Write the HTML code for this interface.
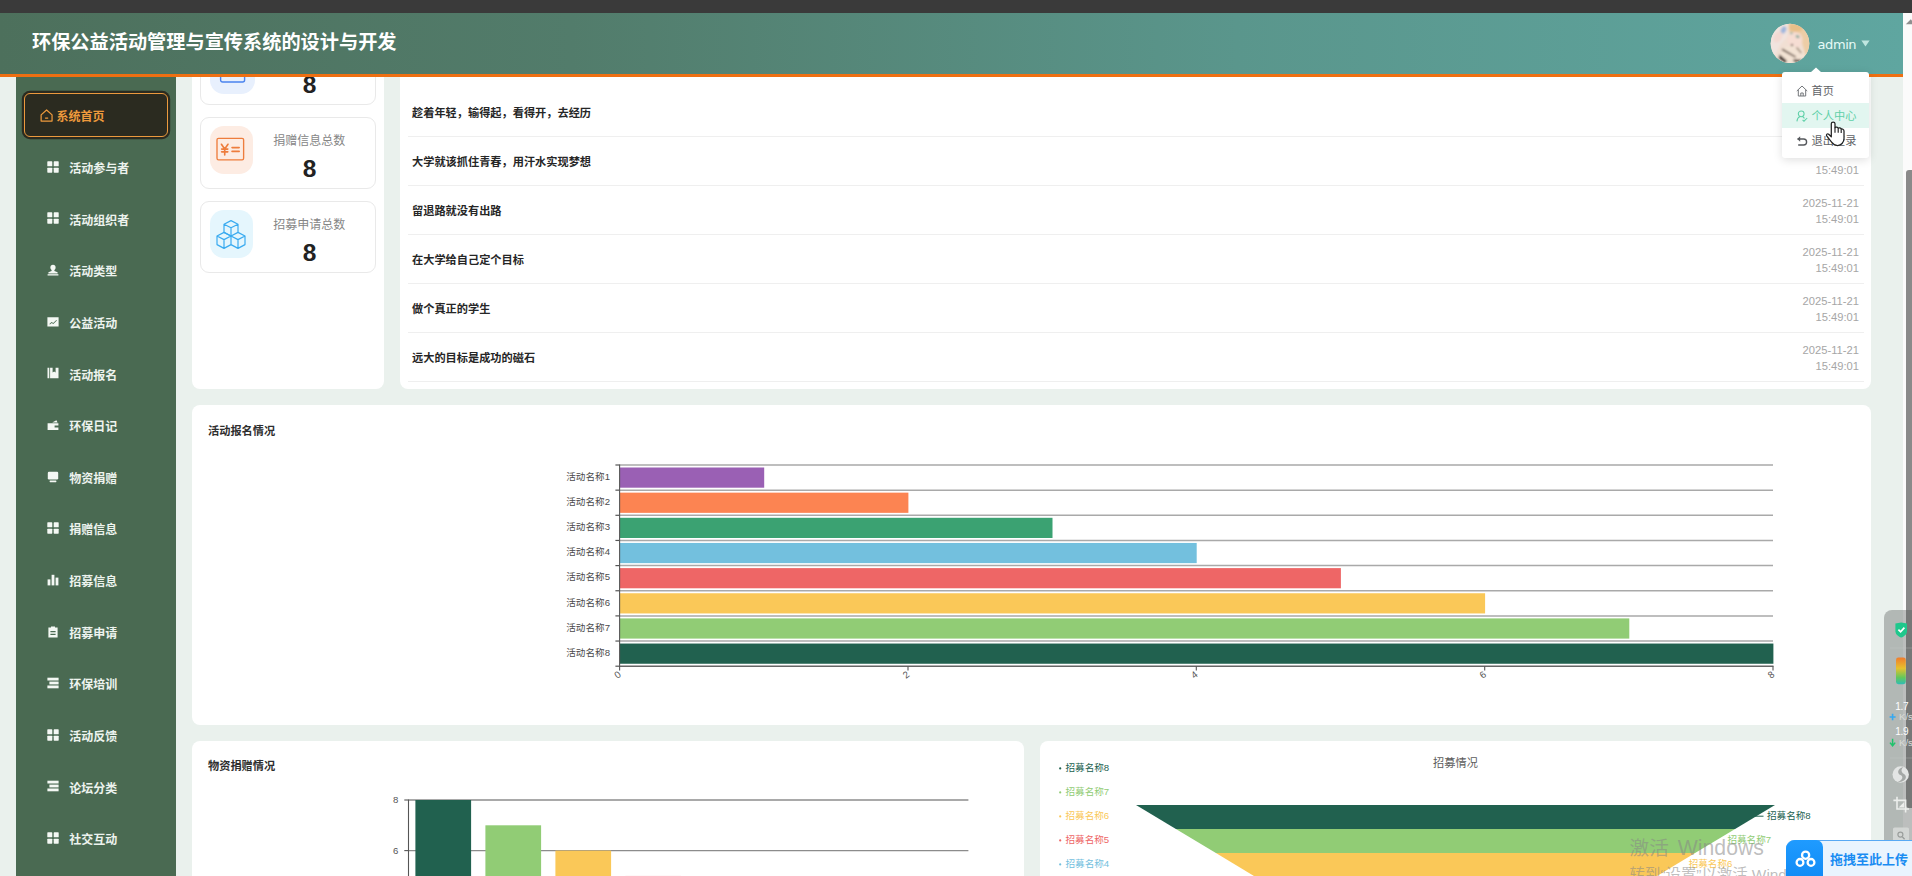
<!DOCTYPE html>
<html lang="zh-CN">
<head>
<meta charset="utf-8">
<title>环保公益活动管理与宣传系统的设计与开发</title>
<style>
*{box-sizing:border-box;margin:0;padding:0}
html,body{width:1912px;height:876px;overflow:hidden}
body{position:relative;background:#eaf1ed;font-family:"Liberation Sans","Noto Sans CJK SC",sans-serif;color:#333}
.abs{position:absolute}
#topbar{left:0;top:0;width:1912px;height:13px;background:#3a3a3a;z-index:50}
#header{left:0;top:13px;width:1903px;height:64px;background:linear-gradient(90deg,#4d705c 0%,#527c6b 30%,#5a968c 65%,#5fa6a0 100%);border-bottom:3px solid #ee6f12;z-index:40}
#title{left:32px;top:14.3px;height:58px;line-height:58px;font-size:19.2px;font-weight:700;color:#fff;z-index:41;white-space:nowrap;letter-spacing:0}
#sidebar{left:16px;top:77px;width:160px;height:799px;background:#4a6a52;z-index:5}
.mi{position:absolute;left:0;width:160px;height:20px;line-height:20px;font-size:12px;font-weight:700;color:#edf3ee;white-space:nowrap}
.mi span{position:absolute;left:53.2px;top:0.8px}
.mi svg{position:absolute;left:31px;top:2.5px;width:12px;height:12px;fill:#f4f8f4}
#active{left:8px;top:15.5px;width:143.7px;height:44.2px;border:1px solid #eb9a3e;border-radius:6px;background:#2b2b20;box-shadow:0 0 0 2.2px #2b2b20}
#active span{position:absolute;left:31.6px;top:13.2px;height:20px;line-height:20px;font-size:12px;font-weight:700;color:#ee9a3c;white-space:nowrap}
#active svg{position:absolute;left:14.6px;top:15.6px;width:13.2px;height:13.2px}
.panel{position:absolute;background:#fff;border-radius:8px}
.card{position:absolute;left:8px;width:176px;height:72px;border:1px solid #e9e9e9;border-radius:9px;background:#fff}
.card .ic{position:absolute;left:8.6px;top:8.4px;width:43px;height:48px;border-radius:14px}
.card .lb{position:absolute;left:53.3px;width:110px;text-align:center;top:15.4px;font-size:12px;line-height:16px;color:#868686;white-space:nowrap}
.card .nm{position:absolute;left:53.6px;width:110px;text-align:center;top:35.6px;font-size:24.5px;line-height:30px;color:#222;font-weight:700}
.row{position:absolute;left:8px;width:1456px;height:49px;border-bottom:1px solid #efefef}
.row .t{position:absolute;left:4px;top:16.2px;height:18px;line-height:18px;font-size:11.2px;font-weight:700;color:#262626;white-space:nowrap}
.row .d{position:absolute;right:5px;top:8.8px;width:80px;text-align:right;font-size:11.2px;line-height:16.3px;color:#a6a6a6;white-space:nowrap}
.ptitle{position:absolute;left:16px;height:18px;line-height:18px;font-size:11.2px;font-weight:700;color:#2e2e2e;white-space:nowrap}
.ddt{left:1811.6px;height:18px;line-height:18px;font-size:11.2px;white-space:nowrap;z-index:62}
</style>
</head>
<body>
<div id="topbar" class="abs"></div>
<div id="header" class="abs"></div>
<div id="title" class="abs">环保公益活动管理与宣传系统的设计与开发</div>

<div id="sidebar" class="abs">
  <div id="active" class="abs">
    <svg viewBox="0 0 14 14" fill="none" stroke="#ee9a3c" stroke-width="1.3" stroke-linejoin="round" stroke-linecap="round"><path d="M1.2 6.2 L7 1 L12.8 6.2 V12.8 H1.2 Z"/><path d="M5.8 9.6 H8.2"/></svg>
    <span>系统首页</span>
  </div>
  <div class="mi" style="top:81.2px"><svg viewBox="0 0 12 12"><rect x="0.3" y="0.3" width="5" height="5" rx="0.6"/><rect x="6.7" y="0.3" width="5" height="5" rx="0.6"/><rect x="0.3" y="6.7" width="5" height="5" rx="0.6"/><rect x="6.7" y="6.7" width="5" height="5" rx="0.6"/></svg><span>活动参与者</span></div>
  <div class="mi" style="top:132.8px"><svg viewBox="0 0 12 12"><rect x="0.3" y="0.3" width="5" height="5" rx="0.6"/><rect x="6.7" y="0.3" width="5" height="5" rx="0.6"/><rect x="0.3" y="6.7" width="5" height="5" rx="0.6"/><rect x="6.7" y="6.7" width="5" height="5" rx="0.6"/></svg><span>活动组织者</span></div>
  <div class="mi" style="top:184.5px"><svg viewBox="0 0 12 12"><circle cx="6" cy="3.4" r="2.6"/><path d="M4.6 5.2 H7.4 V7 L10.6 8.2 V9.4 H1.4 V8.2 L4.6 7 Z"/><rect x="0.6" y="10.2" width="10.8" height="1.3"/></svg><span>活动类型</span></div>
  <div class="mi" style="top:236.1px"><svg viewBox="0 0 12 12"><path fill-rule="evenodd" d="M0.4 1.2 H11.6 V10.6 H0.4 Z M2.4 7.9 L4.6 5.9 L6.2 7 L9.4 3.9 L9.9 4.4 L6.3 8 L4.7 6.9 L2.9 8.5 Z"/></svg><span>公益活动</span></div>
  <div class="mi" style="top:287.8px"><svg viewBox="0 0 12 12"><path d="M0.5 0.8 H2.3 V11.2 H0.5 Z M3.1 0.8 H5.6 V5.6 L7.1 4.5 L8.6 5.6 V0.8 H11.5 V11.2 H3.1 Z"/></svg><span>活动报名</span></div>
  <div class="mi" style="top:339.4px"><svg viewBox="0 0 12 12"><path d="M5.2 3.6 L9.4 1.2 L10.6 3.6 Z"/><path d="M0.6 4.2 H11.4 V11 H0.6 Z M7.6 6.6 V8.4 H11.4 V6.6 Z" fill-rule="evenodd"/></svg><span>环保日记</span></div>
  <div class="mi" style="top:391.0px"><svg viewBox="0 0 12 12"><rect x="0.8" y="0.8" width="10.4" height="7.6" rx="1.2"/><rect x="2.6" y="9.4" width="6.8" height="1.8" rx="0.6"/></svg><span>物资捐赠</span></div>
  <div class="mi" style="top:442.7px"><svg viewBox="0 0 12 12"><rect x="0.3" y="0.3" width="5" height="5" rx="0.6"/><rect x="6.7" y="0.3" width="5" height="5" rx="0.6"/><rect x="0.3" y="6.7" width="5" height="5" rx="0.6"/><rect x="6.7" y="6.7" width="5" height="5" rx="0.6"/></svg><span>捐赠信息</span></div>
  <div class="mi" style="top:494.3px"><svg viewBox="0 0 12 12"><rect x="0.6" y="5.4" width="2.8" height="6"/><rect x="4.6" y="0.8" width="2.8" height="10.6"/><rect x="8.6" y="3.6" width="2.8" height="7.8"/></svg><span>招募信息</span></div>
  <div class="mi" style="top:546.0px"><svg viewBox="0 0 12 12"><path fill-rule="evenodd" d="M4 0.4 H8 V1.6 H10.6 V11.6 H1.4 V1.6 H4 Z M3.4 5 V6.2 H8.6 V5 Z M3.4 7.8 V9 H8.6 V7.8 Z"/></svg><span>招募申请</span></div>
  <div class="mi" style="top:597.6px"><svg viewBox="0 0 12 12"><rect x="0.4" y="0.7" width="11.2" height="2.8"/><rect x="2.4" y="4.6" width="9.2" height="2.8"/><rect x="0.4" y="8.5" width="11.2" height="2.8"/></svg><span>环保培训</span></div>
  <div class="mi" style="top:649.2px"><svg viewBox="0 0 12 12"><rect x="0.3" y="0.3" width="5" height="5" rx="0.6"/><rect x="6.7" y="0.3" width="5" height="5" rx="0.6"/><rect x="0.3" y="6.7" width="5" height="5" rx="0.6"/><rect x="6.7" y="6.7" width="5" height="5" rx="0.6"/></svg><span>活动反馈</span></div>
  <div class="mi" style="top:700.9px"><svg viewBox="0 0 12 12"><rect x="0.4" y="0.7" width="11.2" height="2.8"/><rect x="2.4" y="4.6" width="9.2" height="2.8"/><rect x="0.4" y="8.5" width="11.2" height="2.8"/></svg><span>论坛分类</span></div>
  <div class="mi" style="top:752.5px"><svg viewBox="0 0 12 12"><rect x="0.3" y="0.3" width="5" height="5" rx="0.6"/><rect x="6.7" y="0.3" width="5" height="5" rx="0.6"/><rect x="0.3" y="6.7" width="5" height="5" rx="0.6"/><rect x="6.7" y="6.7" width="5" height="5" rx="0.6"/></svg><span>社交互动</span></div>
</div>

<div class="panel" style="left:192px;top:20px;width:192px;height:369px">
  <div class="card" style="top:13px">
    <div class="ic" style="background:#e8f0fd;left:9px;width:45px;height:52px;top:8px"></div>
    <svg class="abs" style="left:18px;top:22px;width:28px;height:28px" viewBox="0 0 28 28" fill="none" stroke="#4a83ee" stroke-width="1.4"><rect x="1.6" y="3" width="24" height="23" rx="2"/></svg>
    <div class="lb">活动报名总数</div>
    <div class="nm">8</div>
  </div>
  <div class="card" style="top:97px">
    <div class="ic" style="background:#fdece3"></div>
    <svg class="abs" style="left:14px;top:18.4px;width:31px;height:27px" viewBox="0 0 32 28" fill="none" stroke="#ee7d3d" stroke-width="1.4" stroke-linecap="round" stroke-linejoin="round"><rect x="2" y="2.4" width="27.6" height="22.4" rx="1.6"/><path d="M6.6 8.6 L10 13.4 L13.4 8.6 M10 13.4 V19.6 M6.8 13.6 H13.2 M6.8 16.4 H13.2 M17.6 12 H25 M17.6 16 H25" stroke-width="1.7"/></svg>
    <div class="lb">捐赠信息总数</div>
    <div class="nm">8</div>
  </div>
  <div class="card" style="top:181px">
    <div class="ic" style="background:#e5f6fd"></div>
    <svg class="abs" style="left:14px;top:17px;width:32px;height:32px" viewBox="0 0 32 32" fill="none" stroke="#3aabf0" stroke-width="1.2" stroke-linejoin="round"><path d="M16 1.6 L23 5.2 V13.4 L16 17 L9 13.4 V5.2 Z M9 5.2 L16 8.8 L23 5.2 M16 8.8 V17"/><path d="M9 13.4 L16 17 V25.6 L9 29.4 L2 25.6 V17 Z M2 17 L9 20.6 L16 17 M9 20.6 V29.4"/><path d="M23 13.4 L30 17 V25.6 L23 29.4 L16 25.6 M16 17 L23 20.6 L30 17 M23 20.6 V29.4"/></svg>
    <div class="lb">招募申请总数</div>
    <div class="nm">8</div>
  </div>
</div>

<div class="panel" style="left:400px;top:20px;width:1471px;height:369px">
  <div class="row" style="top:19.00px;border:0"><div class="t">今天你环保了吗</div><div class="d">2025-11-21<br>15:49:01</div></div>
  <div class="row" style="top:68.00px"><div class="t">趁着年轻，输得起，看得开，去经历</div><div class="d">2025-11-21<br>15:49:01</div></div>
  <div class="row" style="top:117.00px"><div class="t">大学就该抓住青春，用汗水实现梦想</div><div class="d">2025-11-21<br>15:49:01</div></div>
  <div class="row" style="top:166.00px"><div class="t">留退路就没有出路</div><div class="d">2025-11-21<br>15:49:01</div></div>
  <div class="row" style="top:215.00px"><div class="t">在大学给自己定个目标</div><div class="d">2025-11-21<br>15:49:01</div></div>
  <div class="row" style="top:264.00px"><div class="t">做个真正的学生</div><div class="d">2025-11-21<br>15:49:01</div></div>
  <div class="row" style="top:313.00px"><div class="t">远大的目标是成功的磁石</div><div class="d">2025-11-21<br>15:49:01</div></div>
</div>
<div class="panel" style="left:192px;top:405px;width:1679px;height:320px">
<div class="ptitle" style="top:16.5px">活动报名情况</div>
<svg class="abs" style="left:0;top:0" width="1679" height="320" viewBox="0 0 1679 320" font-family="Liberation Sans, Noto Sans CJK SC, sans-serif">
<line x1="427.6" y1="60.00" x2="1581.0" y2="60.00" stroke="#a9a9a9" stroke-width="1.5"/>
<line x1="423.4" y1="60.00" x2="427.6" y2="60.00" stroke="#555" stroke-width="1.2"/>
<line x1="427.6" y1="85.15" x2="1581.0" y2="85.15" stroke="#a9a9a9" stroke-width="1.5"/>
<line x1="423.4" y1="85.15" x2="427.6" y2="85.15" stroke="#555" stroke-width="1.2"/>
<line x1="427.6" y1="110.30" x2="1581.0" y2="110.30" stroke="#a9a9a9" stroke-width="1.5"/>
<line x1="423.4" y1="110.30" x2="427.6" y2="110.30" stroke="#555" stroke-width="1.2"/>
<line x1="427.6" y1="135.45" x2="1581.0" y2="135.45" stroke="#a9a9a9" stroke-width="1.5"/>
<line x1="423.4" y1="135.45" x2="427.6" y2="135.45" stroke="#555" stroke-width="1.2"/>
<line x1="427.6" y1="160.60" x2="1581.0" y2="160.60" stroke="#a9a9a9" stroke-width="1.5"/>
<line x1="423.4" y1="160.60" x2="427.6" y2="160.60" stroke="#555" stroke-width="1.2"/>
<line x1="427.6" y1="185.75" x2="1581.0" y2="185.75" stroke="#a9a9a9" stroke-width="1.5"/>
<line x1="423.4" y1="185.75" x2="427.6" y2="185.75" stroke="#555" stroke-width="1.2"/>
<line x1="427.6" y1="210.90" x2="1581.0" y2="210.90" stroke="#a9a9a9" stroke-width="1.5"/>
<line x1="423.4" y1="210.90" x2="427.6" y2="210.90" stroke="#555" stroke-width="1.2"/>
<line x1="427.6" y1="236.05" x2="1581.0" y2="236.05" stroke="#a9a9a9" stroke-width="1.5"/>
<line x1="423.4" y1="236.05" x2="427.6" y2="236.05" stroke="#555" stroke-width="1.2"/>
<line x1="423.4" y1="261.20" x2="427.6" y2="261.20" stroke="#555" stroke-width="1.2"/>
<rect x="428.0" y="62.50" width="144.2" height="20.2" fill="#9a60b4"/>
<text x="418.0" y="74.88" text-anchor="end" font-size="9.6" fill="#4a4a4a">活动名称1</text>
<rect x="428.0" y="87.65" width="288.4" height="20.2" fill="#fc8452"/>
<text x="418.0" y="100.03" text-anchor="end" font-size="9.6" fill="#4a4a4a">活动名称2</text>
<rect x="428.0" y="112.80" width="432.5" height="20.2" fill="#3ba272"/>
<text x="418.0" y="125.17" text-anchor="end" font-size="9.6" fill="#4a4a4a">活动名称3</text>
<rect x="428.0" y="137.95" width="576.7" height="20.2" fill="#73c0de"/>
<text x="418.0" y="150.32" text-anchor="end" font-size="9.6" fill="#4a4a4a">活动名称4</text>
<rect x="428.0" y="163.10" width="720.9" height="20.2" fill="#ee6666"/>
<text x="418.0" y="175.47" text-anchor="end" font-size="9.6" fill="#4a4a4a">活动名称5</text>
<rect x="428.0" y="188.25" width="865.1" height="20.2" fill="#fac858"/>
<text x="418.0" y="200.62" text-anchor="end" font-size="9.6" fill="#4a4a4a">活动名称6</text>
<rect x="428.0" y="213.40" width="1009.3" height="20.2" fill="#91cc75"/>
<text x="418.0" y="225.77" text-anchor="end" font-size="9.6" fill="#4a4a4a">活动名称7</text>
<rect x="428.0" y="238.55" width="1153.4" height="20.2" fill="#21614f"/>
<text x="418.0" y="250.92" text-anchor="end" font-size="9.6" fill="#4a4a4a">活动名称8</text>
<line x1="427.6" y1="59.5" x2="427.6" y2="261.7" stroke="#555" stroke-width="1.1"/>
<line x1="427.1" y1="261.20" x2="1581.5" y2="261.20" stroke="#666" stroke-width="1.4"/>
<line x1="427.6" y1="261.20" x2="427.6" y2="265.60" stroke="#555" stroke-width="1.1"/>
<text transform="translate(428.2,268.8) rotate(-38)" text-anchor="end" dominant-baseline="middle" font-size="9.6" fill="#555">0</text>
<line x1="716.0" y1="261.20" x2="716.0" y2="265.60" stroke="#555" stroke-width="1.1"/>
<text transform="translate(716.6,268.8) rotate(-38)" text-anchor="end" dominant-baseline="middle" font-size="9.6" fill="#555">2</text>
<line x1="1004.3" y1="261.20" x2="1004.3" y2="265.60" stroke="#555" stroke-width="1.1"/>
<text transform="translate(1004.9,268.8) rotate(-38)" text-anchor="end" dominant-baseline="middle" font-size="9.6" fill="#555">4</text>
<line x1="1292.7" y1="261.20" x2="1292.7" y2="265.60" stroke="#555" stroke-width="1.1"/>
<text transform="translate(1293.3,268.8) rotate(-38)" text-anchor="end" dominant-baseline="middle" font-size="9.6" fill="#555">6</text>
<line x1="1581.0" y1="261.20" x2="1581.0" y2="265.60" stroke="#555" stroke-width="1.1"/>
<text transform="translate(1581.6,268.8) rotate(-38)" text-anchor="end" dominant-baseline="middle" font-size="9.6" fill="#555">8</text>
</svg>
</div>
<div class="panel" style="left:192px;top:741px;width:832px;height:150px">
<div class="ptitle" style="top:15.5px">物资捐赠情况</div>
<svg class="abs" style="left:0;top:0" width="832" height="140" viewBox="0 0 832 140" font-family="Liberation Sans, Noto Sans CJK SC, sans-serif">
<line x1="216.5" y1="59.00" x2="776.4" y2="59.00" stroke="#8c8c8c" stroke-width="1.3"/>
<line x1="212.3" y1="59.00" x2="216.5" y2="59.00" stroke="#555" stroke-width="1.1"/>
<text x="206.3" y="61.90" text-anchor="end" font-size="9.6" fill="#555">8</text>
<line x1="216.5" y1="109.60" x2="776.4" y2="109.60" stroke="#8c8c8c" stroke-width="1.3"/>
<line x1="212.3" y1="109.60" x2="216.5" y2="109.60" stroke="#555" stroke-width="1.1"/>
<text x="206.3" y="112.50" text-anchor="end" font-size="9.6" fill="#555">6</text>
<line x1="216.5" y1="58.5" x2="216.5" y2="140" stroke="#555" stroke-width="1.1"/>
<rect x="223.4" y="59.00" width="55.7" height="81.0" fill="#21614f"/>
<rect x="293.4" y="84.30" width="55.7" height="55.7" fill="#91cc75"/>
<rect x="363.4" y="109.60" width="55.7" height="30.4" fill="#fac858"/>
<rect x="433.4" y="134.90" width="55.7" height="5.1" fill="#f7b6b6"/>
</svg>
</div>
<div class="panel" style="left:1040px;top:741px;width:831px;height:150px">
<svg class="abs" style="left:0;top:0" width="831" height="140" viewBox="0 0 831 140" font-family="Liberation Sans, Noto Sans CJK SC, sans-serif">
<polygon points="96.0,64.10 735.0,64.10 695.1,88.10 135.9,88.10" fill="#21614f"/>
<polygon points="135.9,88.10 695.1,88.10 655.1,112.10 175.9,112.10" fill="#91cc75"/>
<polygon points="175.9,112.10 655.1,112.10 615.2,136.10 215.8,136.10" fill="#fac858"/>
<polygon points="215.8,136.10 615.2,136.10 575.2,160.10 255.8,160.10" fill="#ee6666"/>
<text x="415.5" y="25.9" text-anchor="middle" font-size="11.2" fill="#5c5c5c">招募情况</text>
<circle cx="20.2" cy="27.4" r="1.1" fill="#21614f"/>
<text x="25.5" y="30.3" font-size="9.6" fill="#21614f">招募名称8</text>
<circle cx="20.2" cy="51.4" r="1.1" fill="#91cc75"/>
<text x="25.5" y="54.3" font-size="9.6" fill="#91cc75">招募名称7</text>
<circle cx="20.2" cy="75.4" r="1.1" fill="#fac858"/>
<text x="25.5" y="78.3" font-size="9.6" fill="#fac858">招募名称6</text>
<circle cx="20.2" cy="99.4" r="1.1" fill="#ee6666"/>
<text x="25.5" y="102.3" font-size="9.6" fill="#ee6666">招募名称5</text>
<circle cx="20.2" cy="123.4" r="1.1" fill="#73c0de"/>
<text x="25.5" y="126.3" font-size="9.6" fill="#73c0de">招募名称4</text>
<text x="727.0" y="78.3" font-size="9.6" fill="#21614f">招募名称8</text>
<text x="687.4" y="102.3" font-size="9.6" fill="#91cc75">招募名称7</text>
<text x="648.7" y="126.1" font-size="9.6" fill="#fac858">招募名称6</text>
<line x1="715" y1="75.2" x2="723.5" y2="75.2" stroke="#21614f" stroke-width="1"/>
</svg>
</div>
<!--OVERLAYS-->
<!-- avatar + user -->
<svg class="abs" style="left:1770px;top:23px;z-index:45" width="40" height="41" viewBox="0 0 40 41">
  <defs><clipPath id="av"><ellipse cx="20" cy="20.4" rx="19.3" ry="19.7"/></clipPath><filter id="avb" x="-10%" y="-10%" width="120%" height="120%"><feGaussianBlur stdDeviation="1"/></filter></defs>
  <g clip-path="url(#av)">
    <rect width="40" height="41" fill="#f1dfd3"/>
    <g filter="url(#avb)">
    <rect x="-4" y="-4" width="48" height="49" fill="#f1dfd3"/>
    <path d="M-4 -4 H20 L17 14 L10 22 L4 34 L-4 38 Z" fill="#f1e4df"/>
    <path d="M18 -4 H44 V30 L36 34 L32 20 L26 10 L19 9 Z" fill="#edcda6"/>
    <ellipse cx="26" cy="4.5" rx="7" ry="4.5" fill="#e9bf88"/>
    <ellipse cx="13.5" cy="7" rx="2.6" ry="3.8" fill="#9fb6dd" transform="rotate(25 13.5 7)"/>
    <ellipse cx="8" cy="14" rx="4" ry="6" fill="#f3d9d2" transform="rotate(30 8 14)"/>
    <ellipse cx="25" cy="17" rx="7.5" ry="8" fill="#f6ddd3"/>
    <ellipse cx="27.6" cy="13.6" rx="2" ry="1.2" fill="#6f9f8f" transform="rotate(20 27.6 13.6)"/>
    <ellipse cx="21.4" cy="10.2" rx="1.2" ry="1" fill="#7aa596"/>
    <circle cx="22" cy="22.2" r="1.1" fill="#4a3226"/>
    <path d="M12 26 C18 22 26 22 33 27 L35 33 L26 41 L14 42 L9 34 Z" fill="#f3e3d4"/>
    <path d="M12.5 25.4 L26 33.4 L25.4 34.8 L11.6 27 Z" fill="#5b463b"/>
    <path d="M9.6 31.4 L16.6 37.6 L15.6 40.6 L8.6 35.4 Z" fill="#3d2d26"/>
    <path d="M23 36.4 L32 36.8 L29.6 39.6 L24 38.8 Z" fill="#3f2e26"/>
    <path d="M27 24 L31.6 29.6 L31 30.4 L26.2 25 Z" fill="#7b6353"/>
    </g>
  </g>
</svg>
<div class="abs" style="left:1817.6px;top:35.4px;height:20px;line-height:20px;font-size:13px;color:#e6fbf7;z-index:45;font-family:'DejaVu Sans','Liberation Sans',sans-serif;letter-spacing:-0.45px">admin</div>
<svg class="abs" style="left:1861px;top:40px;z-index:45" width="9" height="7" viewBox="0 0 9 7"><path d="M0.4 0.6 H8.6 L4.5 6.4 Z" fill="#bfe6e0"/></svg>

<!-- dropdown -->
<div class="abs" id="dd" style="left:1782.4px;top:72.2px;width:87px;height:85.5px;background:#fff;border-radius:3px;box-shadow:0 2px 10px rgba(0,0,0,.13);z-index:60"></div>
<svg class="abs" style="left:1810px;top:67px;z-index:61" width="12" height="6" viewBox="0 0 12 6"><path d="M0 6 L6 0.4 L12 6 Z" fill="#fff"/></svg>
<div class="abs" style="left:1782.4px;top:103.3px;width:87px;height:24.6px;background:#e2f6f0;z-index:61"></div>
<div class="abs ddt" style="top:81.8px;color:#606266">首页</div>
<div class="abs ddt" style="top:107px;color:#5fd0a8">个人中心</div>
<div class="abs ddt" style="top:132px;color:#606266">退出登录</div>
<svg class="abs" style="left:1796px;top:84.6px;z-index:62" width="12" height="12" viewBox="0 0 12 12" fill="none" stroke="#73767a" stroke-width="1"><path d="M0.8 6 L6 1 L11.2 6 M2.3 5 V11 H9.7 V5 M4.8 11 V8 H7.2 V11"/></svg>
<svg class="abs" style="left:1796px;top:109.6px;z-index:62" width="12" height="12" viewBox="0 0 12 12" fill="none" stroke="#5fd0a8" stroke-width="1.05"><circle cx="5.2" cy="3.8" r="2.9"/><path d="M0.9 11.4 C1.2 8.6 2.6 7.2 4 6.6 M6.4 6.6 C7.4 7 8 7.6 8.4 8.4 M6.6 10 L8 11.2 L11.2 8"/></svg>
<svg class="abs" style="left:1796px;top:134.8px;z-index:62" width="12" height="12" viewBox="0 0 12 12" fill="none" stroke="#55585c" stroke-width="1.35"><path d="M1.6 4 H7.6 A3 3 0 0 1 7.6 10 H2.2"/><path d="M4.2 1.2 L1.2 4 L4.2 6.8 Z" fill="#55585c" stroke="none"/></svg>
<!-- hand cursor -->
<svg class="abs" style="left:1824px;top:120px;z-index:70" width="24" height="28" viewBox="0 0 24 28"><path d="M7.3 15.6 V3.7 C7.3 1.7 11 1.7 11 3.7 V7.7 C11.6 6.8 13.8 7 14.2 8.3 C14.8 7.6 16.8 7.8 17.2 9.1 C18 8.6 20 9.2 20 11 V18.5 C20 22.6 17 25.5 13.6 25.5 C10.6 25.5 9.2 24.4 7.6 22.2 L2.7 15.9 C1.8 14.4 3.4 13.2 4.7 14.2 L7.3 16.8 Z" fill="#fff" stroke="#222" stroke-width="1.25" stroke-linejoin="round"/><path d="M11 7.4 V12.8 M14.2 8.4 V12.8 M17.2 9.3 V13.1" stroke="#222" stroke-width="1.15" fill="none"/></svg>

<!-- scrollbar -->
<div class="abs" style="left:1903px;top:13px;width:9px;height:863px;background:#fbfbfb;z-index:80"></div>
<svg class="abs" style="left:1905px;top:19px;z-index:81" width="7" height="6" viewBox="0 0 7 6"><path d="M0.8 5.2 L5.8 0.2 L7 1.4 V5.2 Z" fill="#8f8f8f"/></svg>
<div class="abs" style="left:1906.3px;top:170px;width:8px;height:638.4px;background:#8a8a8a;border-radius:3px 0 0 3px;z-index:81"></div>

<!-- floating toolbar -->
<div class="abs" style="left:1884px;top:610px;width:30px;height:240px;background:rgba(88,92,90,.38);border-radius:8px 0 0 0;z-index:82"></div>
<svg class="abs" style="left:1884px;top:610px;z-index:83" width="28" height="240" viewBox="0 0 28 240" font-family="Liberation Sans, sans-serif">
  <path d="M11.4 13.6 L17.2 12.4 L23 13.6 V21 C23 24.6 19.6 26.6 17.2 27.6 C14.8 26.6 11.4 24.6 11.4 21 Z" fill="#1fc88c"/>
  <path d="M14.4 19.6 L16.6 21.8 L20.4 17.6" fill="none" stroke="#fff" stroke-width="1.7"/>
  <defs><linearGradient id="tg" x1="0" y1="0" x2="0" y2="1"><stop offset="0" stop-color="#f07c2c"/><stop offset=".4" stop-color="#e7c12d"/><stop offset=".75" stop-color="#63c75c"/><stop offset="1" stop-color="#2fbdb4"/></linearGradient></defs>
  <rect x="12" y="47.6" width="9.8" height="26.6" rx="2.4" fill="url(#tg)"/>
  <text x="11.2" y="99.6" font-size="10" fill="#fff" letter-spacing="-0.3">1.7</text>
  <text x="15" y="110.2" font-size="9.6" fill="#d9dcda">K/s</text>
  <path d="M8.6 103.8 V110.2 M5.6 107 H11.6" stroke="#35a8f0" stroke-width="1.6"/>
  <text x="11.2" y="125.3" font-size="10" fill="#fff" letter-spacing="-0.3">1.9</text>
  <text x="15" y="135.8" font-size="9.6" fill="#d9dcda">K/s</text>
  <path d="M8.6 128.8 V135.6 M6 132.6 L8.6 135.8 L11.2 132.6" stroke="#20c26c" stroke-width="1.5" fill="none"/>
  <line x1="6" y1="38" x2="28" y2="38" stroke="#c9ccca" stroke-width=".6" opacity=".5"/>
  <line x1="6" y1="148" x2="28" y2="148" stroke="#c9ccca" stroke-width=".6" opacity=".5"/>
  <circle cx="16.7" cy="164.5" r="8.2" fill="#e3e5e4"/>
  <path d="M19.6 157 C12.6 158.6 13.4 164 16.4 165 C19.6 166 19 170.4 13.6 172 C21.6 172.6 24 166.4 20 164 C16.6 162 17 158.6 19.6 157 Z" fill="#a4a8a6"/>
  <path d="M13 186.8 V199 H25 M9.4 190.4 H21.6 V202.4" fill="none" stroke="#eceeec" stroke-width="1.6"/>
  <path d="M14.6 197.4 L20.2 192 V197.4 Z" fill="#eceeec"/>
  <rect x="9" y="217.5" width="16" height="16" rx="1.6" fill="#d3d6d4"/>
  <circle cx="16.4" cy="224.6" r="2.5" fill="none" stroke="#9a9e9c" stroke-width="1.2"/><path d="M18.3 226.7 L20.6 229.2" stroke="#9a9e9c" stroke-width="1.3"/>
</svg>

<!-- windows watermark -->
<div class="abs" style="left:1629.6px;top:832.6px;height:30px;line-height:30px;font-size:21.2px;color:rgba(135,135,135,.55);white-space:nowrap;z-index:84;font-family:'Liberation Sans','Noto Sans CJK SC',sans-serif"><span style="font-size:19.6px;margin-right:3.2px">激活</span> Windows</div>
<div class="abs" style="left:1629.6px;top:862.8px;height:24px;line-height:24px;font-size:15.4px;color:rgba(135,135,135,.55);white-space:nowrap;z-index:84">转到“设置”以激活 Windows。</div>

<!-- baidu upload widget -->
<div class="abs" style="left:1786px;top:839.6px;width:140px;height:50px;background:#e9f4fe;border:1px solid #58a9f4;border-radius:8px;z-index:90"></div>
<div class="abs" style="left:1786px;top:839.6px;width:37px;height:50px;background:linear-gradient(180deg,#1f9bff,#0d86f2);border-radius:9px 7px 7px 9px;z-index:91"></div>
<svg class="abs" style="left:1793.5px;top:849px;z-index:92" width="23" height="20" viewBox="0 0 23 20" fill="none" stroke="#fff" stroke-width="2.3"><circle cx="11.6" cy="6.2" r="3.6"/><circle cx="6" cy="13.4" r="3.4"/><circle cx="17" cy="13.4" r="3.4"/></svg>
<div class="abs" style="left:1830px;top:848.5px;height:22px;line-height:22px;font-size:13px;font-weight:700;color:#1a8cf2;white-space:nowrap;z-index:92">拖拽至此上传</div>
<!--/OVERLAYS-->

</body>
</html>
